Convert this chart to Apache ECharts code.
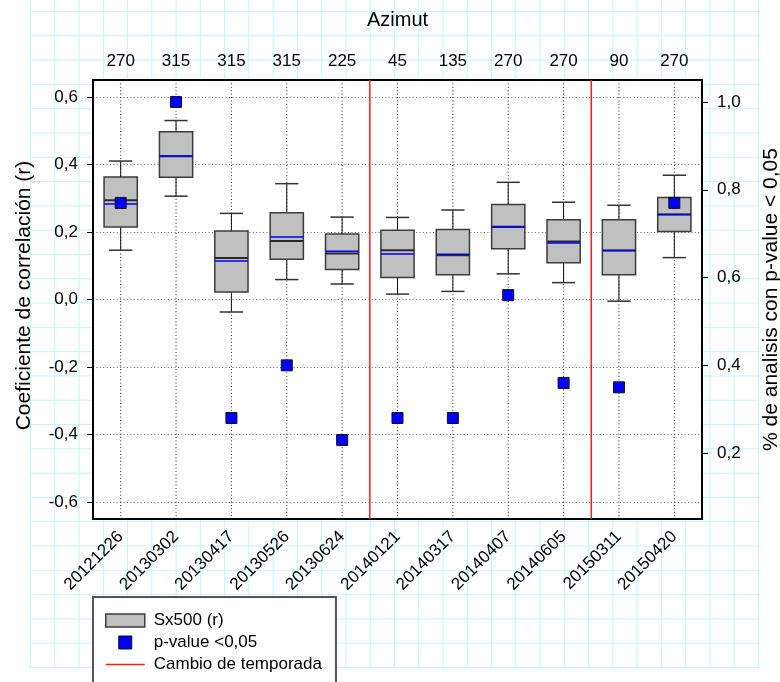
<!DOCTYPE html>
<html>
<head>
<meta charset="utf-8">
<script src="https://cdn.jsdelivr.net/npm/echarts@6/dist/echarts.min.js"></script>
<style>
  html, body { margin: 0; padding: 0; background: #fff; }
  #wrap { position: relative; width: 780px; height: 682px; overflow: hidden; }
  /* graph-paper backdrop behind the chart */
  #paper {
    position: absolute; left: 30px; top: 0; width: 730px; height: 668px;
    background-image:
      linear-gradient(to right, #c2f5f5 0, #c2f5f5 1px, transparent 1px),
      linear-gradient(to bottom, #c2f5f5 0, #c2f5f5 1px, transparent 1px);
    background-size: 24.27px 100%, 100% 24.3px;
    background-position: 0 0, 0 11px;
  }
  #chart { position: absolute; left: 0; top: 0; width: 780px; height: 682px; }
</style>
</head>
<body>
<div id="wrap">
  <div id="paper"></div>
  <div id="chart"></div>
</div>
<script>
// Survey dates and the azimuth of each survey
const dates = ['20121226', '20130302', '20130417', '20130526', '20130624', '20140121',
               '20140317', '20140407', '20140605', '20150311', '20150420'];
const azimuth = ['270', '315', '315', '315', '225', '45', '135', '270', '270', '90', '270'];

// Correlation coefficient distribution per survey (Sx500)
const whiskerLow  = [0.146, 0.306, -0.037, 0.059, 0.046, 0.016, 0.024, 0.076, 0.050, -0.005, 0.124];
const q1          = [0.215, 0.362,  0.022, 0.119, 0.089, 0.065, 0.073, 0.150, 0.109,  0.073, 0.201];
const median      = [0.294, 0.424,  0.123, 0.173, 0.136, 0.146, 0.131, 0.215, 0.172,  0.145, 0.252];
const q3          = [0.363, 0.497,  0.203, 0.257, 0.194, 0.205, 0.207, 0.281, 0.236,  0.236, 0.302];
const whiskerHigh = [0.410, 0.530,  0.255, 0.343, 0.244, 0.243, 0.265, 0.347, 0.288,  0.279, 0.368];
const mean        = [0.283, 0.425,  0.114, 0.185, 0.143, 0.135, 0.134, 0.216, 0.167,  0.145, 0.252];

// Share of analyses with p-value < 0.05 (right axis)
const pShare = [0.77, 1.00, 0.28, 0.40, 0.23, 0.28, 0.28, 0.56, 0.36, 0.35, 0.77];

// First survey of each new season
const seasonStarts = ['20140121', '20150311'];

// Tick labels
const leftTicks = [-0.6, -0.4, -0.2, 0, 0.2, 0.4, 0.6];
const rightTicks = [0.2, 0.4, 0.6, 0.8, 1.0];

const FONT = '"Liberation Sans", Arial, sans-serif';
const fmt = v => (Math.abs(v) < 1e-9 ? 0 : v).toFixed(1).replace('.', ',');

const boxData = dates.map((d, i) =>
  [i, whiskerLow[i], q1[i], median[i], q3[i], whiskerHigh[i], mean[i]]);

function renderBox(params, api) {
  const i = api.value(0);
  const cs = params.coordSys;
  const band = api.size([1, 0])[0];
  const cx = api.coord([i, 0])[0];
  const y = k => api.coord([i, api.value(k)])[1];
  const half = band * 0.30;
  const cap = band * 0.21;
  const yLow = y(1), yQ1 = y(2), yMed = y(3), yQ3 = y(4), yHigh = y(5), yMean = y(6);
  const line = (x1, y1, x2, y2, style) => ({ type: 'line', shape: { x1, y1, x2, y2 }, style });
  return {
    type: 'group',
    children: [
      line(cx, cs.y, cx, cs.y + cs.height, { stroke: '#222', lineWidth: 1, lineDash: [1, 2.4] }),
      line(cx, yQ3, cx, yHigh, { stroke: '#111', lineWidth: 1 }),
      line(cx, yQ1, cx, yLow, { stroke: '#111', lineWidth: 1 }),
      line(cx - cap, yHigh, cx + cap, yHigh, { stroke: '#333', lineWidth: 1.5 }),
      line(cx - cap, yLow, cx + cap, yLow, { stroke: '#333', lineWidth: 1.5 }),
      { type: 'rect', shape: { x: cx - half, y: yQ3, width: half * 2, height: yQ1 - yQ3 },
        style: { fill: '#c0c0c0', stroke: '#3c3c3c', lineWidth: 1.5 } },
      line(cx - half, yMed, cx + half, yMed, { stroke: '#2a2a2a', lineWidth: 2 }),
      line(cx - half, yMean, cx + half, yMean, { stroke: '#0000ff', lineWidth: 1.5 })
    ]
  };
}

function renderBreak(params, api) {
  const cs = params.coordSys;
  const band = api.size([1, 0])[0];
  const x = api.coord([api.value(0), 0])[0] - band / 2;
  return { type: 'line', shape: { x1: x, y1: cs.y, x2: x, y2: cs.y + cs.height },
           style: { stroke: '#ff1a1a', lineWidth: 1.5 } };
}

const axisText = { fontSize: 17, color: '#000', fontFamily: FONT };

const chart = echarts.init(document.getElementById('chart'), null, { renderer: 'canvas' });
chart.setOption({
  animation: false,
  textStyle: { fontFamily: FONT },
  grid: {
    left: 93, right: 78, top: 80, bottom: 163,
    outerBoundsMode: 'none', containLabel: false,
    show: true, backgroundColor: '#fff', borderWidth: 0
  },
  legend: {
    orient: 'vertical', left: 93, top: 597, height: 140,
    padding: [15, 14, 20, 12], itemGap: 5, itemWidth: 39, itemHeight: 13,
    backgroundColor: '#fff', borderColor: '#555', borderWidth: 2, borderRadius: 0,
    selectedMode: false,
    textStyle: { fontSize: 17, color: '#000', fontFamily: FONT, lineHeight: 13, padding: [0, 0, 0, 4] },
    data: [
      { name: 'Sx500 (r)', icon: 'rect',
        itemStyle: { color: '#c0c0c0', borderColor: '#3c3c3c', borderWidth: 1.5 } },
      { name: 'p-value <0,05', icon: 'path://M0,0H10V10H0Z',
        itemStyle: { color: '#0000ff', borderColor: '#111', borderWidth: 1 } },
      { name: 'Cambio de temporada', icon: 'path://M0,0H26V1H0Z',
        itemStyle: { color: '#ff1a1a', borderWidth: 0 } }
    ]
  },
  xAxis: [
    {
      type: 'category', data: dates, position: 'bottom',
      axisLine: { onZero: false, lineStyle: { color: '#000', width: 2 } },
      axisTick: { alignWithLabel: true, length: 5, lineStyle: { color: '#000' } },
      axisLabel: Object.assign({ rotate: 45, margin: 15, interval: 0, padding: [8, 0, 0, 0] }, axisText),
      splitLine: { show: false }
    },
    {
      type: 'category', data: azimuth, position: 'top',
      name: 'Azimut', nameLocation: 'middle', nameGap: 50,
      nameTextStyle: { fontSize: 20, color: '#000', fontFamily: FONT },
      axisLine: { onZero: false, lineStyle: { color: '#000', width: 2 } },
      axisTick: { alignWithLabel: true, length: 5, lineStyle: { color: '#000' } },
      axisLabel: Object.assign({ margin: 10, interval: 0 }, axisText),
      splitLine: { show: false }
    }
  ],
  yAxis: [
    {
      type: 'value', position: 'left', min: -0.65, max: 0.65,
      name: 'Coeficiente de correlación (r)', nameLocation: 'middle', nameRotate: 90, nameGap: 58,
      nameTextStyle: { fontSize: 21, color: '#000', fontFamily: FONT, padding: [0, 0, 0, 8] },
      axisLine: { show: true, onZero: false, lineStyle: { color: '#000', width: 2 } },
      axisTick: { show: true, length: 6, customValues: leftTicks, lineStyle: { color: '#000' } },
      axisLabel: Object.assign({ customValues: leftTicks, formatter: fmt, margin: 15 }, axisText),
      splitLine: { show: true, lineStyle: { color: '#666', width: 1, type: [1, 2.4] } }
    },
    {
      type: 'value', position: 'right', min: 0.05, max: 1.05,
      name: '% de analisis con p-value < 0,05', nameLocation: 'middle', nameRotate: 90, nameGap: 59,
      nameTextStyle: { fontSize: 21, color: '#000', fontFamily: FONT },
      axisLine: { show: true, onZero: false, lineStyle: { color: '#000', width: 2 } },
      axisTick: { show: true, length: 6, customValues: rightTicks, lineStyle: { color: '#000' } },
      axisLabel: Object.assign({ customValues: rightTicks, formatter: fmt, margin: 15 }, axisText),
      splitLine: { show: false }
    }
  ],
  series: [
    {
      name: 'Sx500 (r)', type: 'custom', xAxisIndex: 0, yAxisIndex: 0,
      renderItem: renderBox, data: boxData,
      encode: { x: 0, y: [1, 2, 3, 4, 5, 6] },
      itemStyle: { color: '#c0c0c0' }, z: 2
    },
    {
      name: 'Cambio de temporada', type: 'custom', xAxisIndex: 0, yAxisIndex: 0,
      renderItem: renderBreak, data: seasonStarts.map(d => [d, 0]),
      encode: { x: 0, y: 1 },
      itemStyle: { color: '#ff1a1a' }, z: 3
    },
    {
      name: 'p-value <0,05', type: 'scatter', xAxisIndex: 0, yAxisIndex: 1,
      data: pShare, symbol: 'rect', symbolSize: 11,
      itemStyle: { color: '#0000ff', borderColor: '#111', borderWidth: 1, opacity: 1 },
      z: 4
    }
  ]
});
</script>
</body>
</html>
